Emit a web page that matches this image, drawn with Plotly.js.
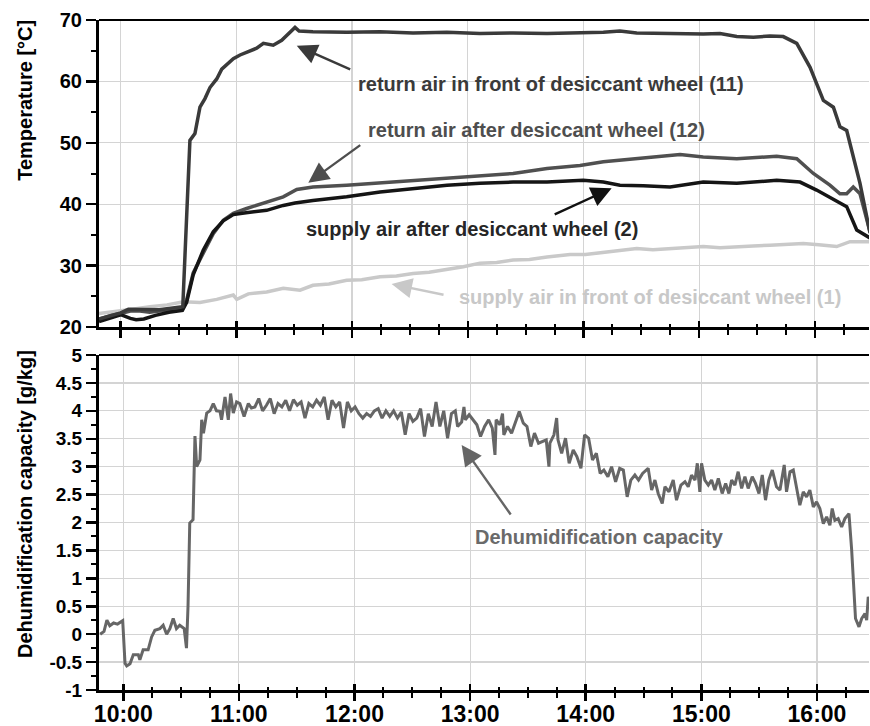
<!DOCTYPE html>
<html>
<head>
<meta charset="utf-8">
<script src="https://cdn.plot.ly/plotly-3.0.1.min.js"></script>
<style>
  html, body { margin: 0; padding: 0; background: #fff; }
  #chart { width: 870px; height: 726px; }
</style>
</head>
<body>
<div id="chart"></div>
<script>
// ---------- data (times are minutes after midnight) ----------
const timeTicks = ['10:00', '11:00', '12:00', '13:00', '14:00', '15:00', '16:00'];
const hourMinutes = [600, 660, 720, 780, 840, 900, 960];
const topYTicks = [20, 30, 40, 50, 60, 70];
const bottomYTicks = [-1, -0.5, 0, 0.5, 1, 1.5, 2, 2.5, 3, 3.5, 4, 4.5, 5];
const bottomYTickText = ['-1', '-0.5', '0', '0.5', '1', '1.5', '2', '2.5', '3', '3.5', '4', '4.5', '5'];

// supply air in front of desiccant wheel (1)
const supplyFrontTimes = [588.75, 600, 606, 615.2, 624, 632.5, 641.1, 649.8, 658.4, 660.2, 666.2, 675.7, 684.3, 693.0, 699.7, 708, 717.2, 725, 734.5, 743, 751.6, 760, 769.2, 777.7, 786.3, 795, 803.5, 812, 821.1, 833.0, 841, 850.3, 858.9, 867.6, 876, 884.9, 893, 902.1, 910.8, 919.5, 928, 936.7, 945, 954.0, 962, 971.3, 978.2, 988.6];
const supplyFrontTemp = [22.2, 22.6, 22.9, 23.3, 23.6, 24.1, 24.0, 24.5, 25.2, 24.5, 25.4, 25.7, 26.3, 26.0, 26.8, 27.0, 27.6, 27.7, 28.2, 28.3, 28.7, 28.9, 29.3, 29.8, 30.4, 30.5, 30.9, 31.0, 31.4, 31.8, 31.8, 32.2, 32.5, 32.8, 32.6, 32.8, 33.0, 33.1, 32.9, 33.1, 33.2, 33.3, 33.4, 33.6, 33.4, 33.1, 33.9, 33.9];

// return air after desiccant wheel (12)
const returnAfterTimes = [588.75, 595, 600, 605, 610, 615, 620, 625, 632, 634.2, 637.6, 642.8, 648.0, 653.2, 658.4, 665.3, 675.7, 684.3, 691.3, 699.7, 717.2, 734.5, 751.6, 769.2, 786.3, 803.5, 821.1, 838.2, 850.3, 867.6, 890.1, 902.1, 919.5, 940.2, 950.6, 959.2, 967.8, 973.0, 976.5, 979.9, 983.4, 988.6];
const returnAfterTemp = [21.3, 21.9, 22.2, 22.6, 22.6, 22.4, 22.6, 22.8, 23.0, 24.4, 28.8, 32.0, 35.2, 37.4, 38.5, 39.3, 40.4, 41.2, 42.4, 42.8, 43.1, 43.5, 43.9, 44.3, 44.6, 45.0, 45.8, 46.3, 46.9, 47.4, 48.1, 47.7, 47.4, 47.8, 47.4, 45.0, 43.1, 41.7, 41.7, 42.8, 41.7, 35.5];

// supply air after desiccant wheel (2)
const supplyAfterTimes = [588.75, 595, 600, 605, 608, 612, 618, 625, 632, 634.2, 637.6, 642.8, 648.0, 653.2, 658.4, 665.0, 675.7, 684.3, 690.4, 699.7, 717.2, 734.5, 751.6, 769.2, 786.3, 803.5, 821.1, 839.9, 850.3, 858.9, 871.0, 884.9, 902.1, 919.5, 940.2, 952.3, 960.9, 971.3, 976.5, 981.7, 988.6];
const supplyAfterTemp = [20.9, 21.5, 22.0, 21.4, 21.2, 21.3, 21.9, 22.4, 22.7, 24.0, 28.5, 32.5, 35.5, 37.3, 38.3, 38.6, 39.0, 39.8, 40.2, 40.6, 41.2, 42.0, 42.5, 43.1, 43.4, 43.6, 43.6, 43.9, 43.6, 43.1, 43.0, 42.8, 43.6, 43.4, 43.9, 43.6, 42.3, 40.6, 39.6, 35.8, 34.5];

// return air in front of desiccant wheel (11)
const returnFrontTimes = [588.75, 600, 604, 610, 620, 630, 632.2, 635.9, 638.5, 641.1, 643.7, 646.3, 649.8, 652.4, 655.0, 658.4, 661.9, 666.2, 670.5, 674.0, 679.1, 683.5, 687.8, 690.4, 692.5, 699.7, 717.2, 734.5, 751.6, 769.2, 786.3, 803.5, 821.1, 838.2, 850.3, 858.9, 867.6, 884.9, 902.1, 910.8, 919.5, 928.1, 936.7, 943.6, 950.6, 957.5, 961.8, 964.4, 969.6, 973.0, 976.5, 979.9, 983.4, 988.6];
const returnFrontTemp = [21.3, 22.3, 22.9, 22.9, 22.8, 23.2, 23.3, 50.4, 51.5, 55.8, 57.2, 59.0, 60.4, 62.0, 62.8, 63.7, 64.3, 64.8, 65.4, 66.2, 65.9, 66.7, 68.0, 68.8, 68.2, 68.1, 68.0, 68.1, 67.9, 68.0, 67.8, 67.9, 67.8, 67.9, 68.0, 68.2, 67.9, 67.8, 67.7, 67.8, 67.3, 67.2, 67.4, 67.3, 66.2, 62.3, 59.1, 56.9, 55.8, 52.6, 52.0, 47.7, 43.4, 35.3];

// dehumidification capacity [g/kg]
const dehumTimes = [
  588, 590, 591.5, 593, 595, 597, 599.7, 600.9, 601.8, 603.5, 605.2, 607.8, 608.6, 610.3, 612.9, 614.7, 616.4, 619, 620.7, 622.5, 624.2, 625.9, 627.6, 629.3, 631.6, 632.8, 633.6, 634.5, 636.2, 637.2, 638.1, 639.8, 640.7, 641.6, 643.3, 645, 646.7, 648.4, 650.2, 651, 652.8, 654.5, 655.7, 657.1, 658.8, 660.5, 662.7, 664.9, 666.5,
  668.3, 670.3, 672.3, 674.3, 676.3, 678.3, 680.3, 682.3, 684.3, 686.3, 688.3, 690.3, 692.3, 694.3, 696.3, 698.3, 700.3, 702.3, 704.3, 706.3, 708.3, 710.3, 712.3, 714.3, 716.3, 718.3, 720.3, 722.3, 724.3, 726.3, 728.3, 730.3, 732.3, 734.3, 736.3, 738.3, 740.3, 742.3, 744.3, 746.3, 748.3, 750.3, 752.3, 754.3, 756.3, 758.3, 760.3, 762.3, 764.3, 766.3, 768.3, 770.3, 772.3,
  773.5, 775.6, 776.8, 777.5, 779.5, 781.4, 783.5, 785.4, 787.5, 789.6, 791.5, 792.9, 793.5, 795.5, 796.8, 797.5, 799.4, 801.5, 803.4, 805.5, 807.6, 809.5, 811.5, 813.4, 815.5, 817.4, 819.5, 820.9, 821.4, 823.5, 824.9, 825.6, 827.5, 829.5, 831.4, 833.5, 835.4, 837.5, 839.4, 841.5, 843.5, 845.5, 847.5, 849.4, 851.5, 853.4, 855.5, 857.6, 859.5, 861.5, 863.4, 865.5, 867.4, 869.5,
  872.4, 874.2, 875.9, 877.6, 879.7, 881.1, 883.2, 885.4, 887.1, 889.4, 891.5, 893.2, 894.9, 896.7, 897.9, 899.2, 900.1, 901.8, 903.6, 905.3, 907.0, 908.8, 910.8, 912.6, 914.3, 915.7, 917.4, 919.1, 920.9, 922.6, 924.3, 926.4, 928.1, 929.9, 931.6, 933.3, 935.0, 936.8, 939.0, 940.8, 943.0, 944.2, 946.0, 947.7, 949.4, 951.1, 952.9, 954.6, 956.3, 958.1, 959.8, 961.5, 963.3, 965.0, 966.7, 967.9, 969.3, 971.0, 972.8, 974.5, 976.6, 978.0, 980.0, 981.8, 983.2, 984.9, 985.8, 986.6, 987.5
];
const dehumValues = [
  0.0, 0.05, 0.25, 0.15, 0.2, 0.18, 0.24, -0.52, -0.57, -0.53, -0.37, -0.37, -0.46, -0.28, -0.28, -0.05, 0.07, 0.1, 0.16, 0.0, 0.1, 0.28, 0.1, 0.16, 0.1, -0.25, 0.5, 1.99, 2.05, 3.55, 3.0, 3.12, 3.84, 3.6, 3.96, 4.0, 4.13, 4.0, 3.99, 3.84, 4.25, 3.84, 4.31, 3.96, 4.16, 4.13, 3.9, 4.13, 4.05,
  4.07, 4.22, 4.0, 4.1, 4.22, 3.95, 4.13, 4.07, 4.19, 4.0, 4.2, 4.1, 4.16, 3.87, 4.13, 4.07, 4.19, 4.1, 4.25, 3.84, 4.19, 4.07, 4.16, 3.69, 4.16, 4.0, 4.07, 3.95, 3.87, 3.95, 3.9, 4.0, 4.04, 3.87, 4.0, 3.9, 4.0, 3.87, 3.98, 3.57, 3.95, 3.81, 3.87, 4.04, 3.54, 3.95, 3.72, 4.16, 3.72, 4.0, 3.51, 3.95, 4.0,
  3.72, 3.8, 4.07, 3.84, 3.93, 3.84, 3.75, 3.54, 3.72, 3.84, 3.69, 3.21, 3.84, 3.75, 3.95, 3.57, 3.72, 3.6, 3.78, 3.99, 3.78, 3.72, 3.36, 3.6, 3.42, 3.45, 3.48, 3.0, 3.42, 3.57, 3.87, 3.48, 3.24, 3.51, 3.06, 3.3, 3.18, 2.97, 3.57, 3.51, 3.12, 3.24, 2.88, 2.94, 2.82, 3.0, 2.73, 2.97, 2.94, 2.46, 2.76, 2.85, 2.76, 2.88,
  2.97, 2.58, 2.76, 2.52, 2.34, 2.64, 2.55, 2.76, 2.4, 2.67, 2.73, 2.64, 2.85, 2.76, 3.06, 2.55, 3.06, 2.76, 2.67, 2.76, 2.58, 2.79, 2.52, 2.7, 2.52, 2.76, 2.67, 2.91, 2.61, 2.82, 2.61, 2.82, 2.7, 2.52, 2.85, 2.4, 2.76, 2.94, 2.64, 2.58, 3.03, 2.55, 2.91, 2.94, 2.64, 2.31, 2.55, 2.46, 2.58, 2.28, 2.37, 2.25, 1.98, 2.1, 1.95, 2.25, 2.04, 2.07, 1.92, 2.07, 2.16, 1.51, 0.28, 0.13, 0.28, 0.37, 0.25, 0.67, 0.55
];

// ---------- helpers ----------
function pad(n) { return (n < 10 ? '0' : '') + n; }
function toDate(m) {
  const s = Math.round(m * 60);
  const h = Math.floor(s / 3600), mi = Math.floor((s % 3600) / 60), se = s % 60;
  return '2020-01-01 ' + pad(h) + ':' + pad(mi) + ':' + pad(se);
}
const FONT = 'Liberation Sans, Arial, Helvetica, sans-serif';
const hourVals = hourMinutes.map(toDate);

function lineTrace(times, vals, color, width, xa, ya) {
  return {
    type: 'scatter', mode: 'lines',
    x: times.map(toDate), y: vals,
    xaxis: xa, yaxis: ya,
    line: { color: color, width: width, shape: 'linear' },
    hoverinfo: 'skip', showlegend: false
  };
}

const traces = [
  lineTrace(supplyFrontTimes, supplyFrontTemp, '#c9c9c9', 3.5, 'x', 'y'),
  lineTrace(returnAfterTimes, returnAfterTemp, '#505050', 3.5, 'x', 'y'),
  lineTrace(supplyAfterTimes, supplyAfterTemp, '#151515', 3.5, 'x', 'y'),
  lineTrace(returnFrontTimes, returnFrontTemp, '#3a3a3a', 3.5, 'x', 'y'),
  lineTrace(dehumTimes, dehumValues, '#666666', 3, 'x2', 'y2'),
  { type: 'scatter', x: [], y: [], xaxis: 'x3', yaxis: 'y', showlegend: false, hoverinfo: 'skip' },
  { type: 'scatter', x: [], y: [], xaxis: 'x4', yaxis: 'y2', showlegend: false, hoverinfo: 'skip' }
];

const topRange = [toDate(588.75), toDate(988.07)];
const botRange = [toDate(587.4), toDate(987.0)];

function xAxisBase(range, anchor, showLabels) {
  return {
    type: 'date', range: range, anchor: anchor, domain: [0, 1],
    tickmode: 'array', tickvals: hourVals, ticktext: timeTicks,
    showticklabels: showLabels, ticklabelstandoff: -7,
    tickfont: { family: FONT, size: 23, color: '#000', weight: 700 },
    ticks: 'outside', ticklen: 8, tickwidth: 2.5, tickcolor: '#000',
    showline: true, linewidth: 3, linecolor: '#000',
    showgrid: true, gridcolor: '#d4d4d4', gridwidth: 1.2, zeroline: false,
    minor: { tickmode: 'linear', tick0: toDate(600), dtick: 900000, ticks: 'outside', ticklen: 5, tickwidth: 2, tickcolor: '#000', showgrid: false },
    fixedrange: true
  };
}
function xAxisInside(range, anchor, over) {
  return {
    type: 'date', range: range, anchor: anchor, overlaying: over, side: 'bottom',
    tickmode: 'array', tickvals: hourVals, ticktext: timeTicks, showticklabels: false,
    ticks: 'inside', ticklen: 6, tickwidth: 2.5, tickcolor: '#000',
    showline: false, showgrid: false, zeroline: false,
    minor: { tickmode: 'linear', tick0: toDate(600), dtick: 900000, ticks: 'inside', ticklen: 3, tickwidth: 2, tickcolor: '#000', showgrid: false },
    fixedrange: true
  };
}

const layout = {
  width: 870, height: 726,
  margin: { l: 99, r: 1, t: 20, b: 36 },
  paper_bgcolor: '#fff', plot_bgcolor: '#fff',
  showlegend: false,
  font: { family: FONT, color: '#000' },
  xaxis: xAxisBase(topRange, 'y', false),
  xaxis2: xAxisBase(botRange, 'y2', true),
  xaxis3: xAxisInside(topRange, 'y', 'x'),
  xaxis4: xAxisInside(botRange, 'y2', 'x2'),
  yaxis: {
    domain: [0.5418, 1], anchor: 'x', range: [20, 70],
    tickmode: 'array', tickvals: topYTicks, ticktext: topYTicks.map(String),
    tickfont: { family: FONT, size: 20, color: '#000', weight: 700 },
    ticks: 'outside', ticklen: 10, tickwidth: 2.5, tickcolor: '#000',
    showline: true, linewidth: 3, linecolor: '#000',
    showgrid: true, gridcolor: '#d4d4d4', gridwidth: 1.2, zeroline: false,
    minor: { tickmode: 'linear', tick0: 20, dtick: 5, ticks: 'outside', ticklen: 5, tickwidth: 2, tickcolor: '#000', showgrid: false },
    fixedrange: true
  },
  yaxis2: {
    domain: [0, 0.5], anchor: 'x2', range: [-1, 5],
    tickmode: 'array', tickvals: bottomYTicks, ticktext: bottomYTickText,
    tickfont: { family: FONT, size: 19, color: '#000', weight: 700 },
    ticks: 'outside', ticklen: 10, tickwidth: 2.5, tickcolor: '#000',
    showline: true, linewidth: 3, linecolor: '#000',
    showgrid: true, gridcolor: '#d4d4d4', gridwidth: 1.2, zeroline: false,
    minor: { tickmode: 'linear', tick0: -1, dtick: 0.25, ticks: 'outside', ticklen: 5, tickwidth: 2, tickcolor: '#000', showgrid: false },
    fixedrange: true
  },
  shapes: [
    { type: 'line', xref: 'x domain', yref: 'y domain', x0: 0, x1: 1, y0: 1, y1: 1, line: { color: '#000', width: 2 } },
    { type: 'line', xref: 'x2 domain', yref: 'y2 domain', x0: 0, x1: 1, y0: 1, y1: 1, line: { color: '#000', width: 2 } }
  ],
  annotations: []
};

function label(text, m, v, color, xa, ya) {
  return {
    text: text, x: toDate(m), y: v, xref: xa, yref: ya,
    xanchor: 'left', yanchor: 'middle', showarrow: false,
    font: { family: FONT, size: 20, color: color, weight: 700 }
  };
}
function arrow(m0, v0, m1, v1, color, xa, ya) {
  return {
    text: '', x: toDate(m1), y: v1, ax: toDate(m0), ay: v0,
    xref: xa, yref: ya, axref: xa, ayref: ya,
    showarrow: true, arrowhead: 2, arrowsize: 1.7, arrowwidth: 2.4,
    arrowcolor: color, standoff: 0, startstandoff: 0
  };
}

layout.annotations.push(
  label('return air in front of desiccant wheel (11)', 722.0, 59.6, '#3a3a3a', 'x', 'y'),
  arrow(719.8, 61.86, 691.3, 65.81, '#3a3a3a', 'x', 'y'),
  label('return air after desiccant wheel (12)', 727.2, 52.1, '#4e4e4e', 'x', 'y'),
  arrow(725.0, 49.8, 697.3, 43.5, '#4e4e4e', 'x', 'y'),
  label('supply air after desiccant wheel (2)', 695.1, 36.0, '#262626', 'x', 'y'),
  arrow(824.3, 38.24, 854.6, 42.59, '#111111', 'x', 'y'),
  label('supply air in front of desiccant wheel (1)', 774.2, 24.85, '#c8c8c8', 'x', 'y'),
  arrow(768.2, 25.21, 740.5, 27.0, '#c8c8c8', 'x', 'y'),
  label('Dehumidification capacity', 781.6, 1.735, '#6a6a6a', 'x2', 'y2'),
  arrow(801.6, 2.116, 775.6, 3.388, '#666666', 'x2', 'y2'),
  {
    text: 'Temperature [°C]', xref: 'paper', yref: 'paper', x: -0.0961, y: 0.8794,
    xanchor: 'center', yanchor: 'middle', textangle: -90, showarrow: false,
    font: { family: FONT, size: 20, color: '#000', weight: 700 }
  },
  {
    text: 'Dehumidification capacity [g/kg]', xref: 'paper', yref: 'paper', x: -0.0961, y: 0.2776,
    xanchor: 'center', yanchor: 'middle', textangle: -90, showarrow: false,
    font: { family: FONT, size: 20, color: '#000', weight: 700 }
  }
);

Plotly.newPlot('chart', traces, layout, { displayModeBar: false, staticPlot: true });
</script>
</body>
</html>
